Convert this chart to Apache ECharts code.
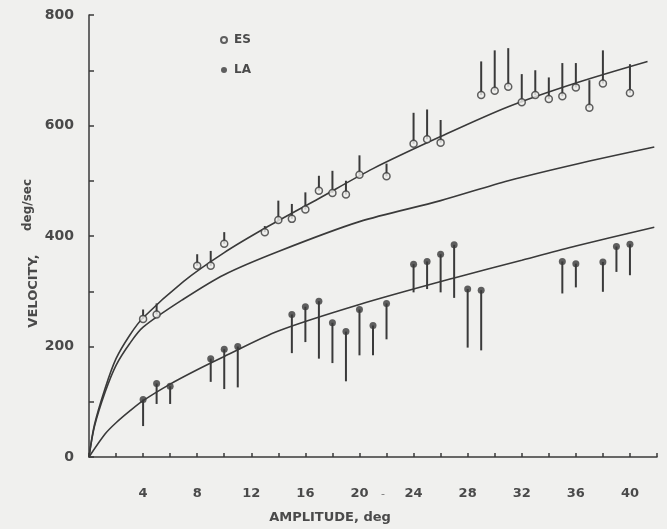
<!DOCTYPE html>
<html>
<head>
<meta charset="utf-8">
<script src="https://cdn.jsdelivr.net/npm/echarts@6/dist/echarts.min.js"></script>
<style>
html, body { margin: 0; padding: 0; background: #f0f0ee; }
#chart { width: 667px; height: 529px; }
</style>
</head>
<body>
<div id="chart"></div>
<script>
// ES points: [amplitude, velocity, top of bar]
var esPoints = [
    [4, 250, 267], [5, 258, 278], [8, 346, 367], [9, 346, 373], [10, 386, 407],
    [13, 407, 418], [14, 429, 464], [15, 431, 458], [16, 448, 479], [17, 482, 509],
    [18, 478, 518], [19, 475, 500], [20, 511, 546], [22, 508, 531], [24, 567, 623],
    [25, 575, 629], [26, 569, 610], [29, 655, 716], [30, 663, 736], [31, 670, 740],
    [32, 642, 693], [33, 655, 700], [34, 648, 687], [35, 653, 713], [36, 669, 713],
    [37, 632, 682], [38, 676, 736], [40, 659, 711]
];

// LA points: [amplitude, velocity, bottom of bar]
var laPoints = [
    [4, 104, 56], [5, 133, 96], [6, 128, 96], [9, 178, 136], [10, 195, 123],
    [11, 200, 126], [15, 258, 188], [16, 272, 208], [17, 282, 178], [18, 243, 170],
    [19, 227, 137], [20, 267, 184], [21, 238, 184], [22, 278, 213], [24, 349, 298],
    [25, 354, 304], [26, 367, 298], [27, 384, 288], [28, 304, 198], [29, 302, 193],
    [35, 354, 296], [36, 350, 307], [38, 353, 299], [39, 381, 335], [40, 385, 329]
];

// fitted curves
var esCurve = [[0, 0], [0.4, 58], [1.2, 125], [2, 178], [3, 220], [4, 252], [7, 318], [10, 370],
    [13, 414], [17, 468], [21, 522], [26, 580], [31, 634], [36, 677], [41.3, 716]];
var midCurve = [[0, 0], [0.4, 55], [1.2, 118], [2, 166], [3, 205], [4, 235], [7, 286], [10, 330],
    [14, 372], [20, 426], [26, 464], [31, 500], [36, 530], [41.8, 561]];
var laCurve = [[0, 0], [1.2, 42], [2, 62], [3, 83], [4, 102], [6, 132], [8, 158], [10, 182],
    [14, 228], [20, 276], [27, 324], [32, 356], [36, 382], [41.8, 416]];

var ink = '#3a3a3a';
var paper = '#f0f0ee';
var font = 'DejaVu Sans';

function barItem(params, api) {
    var p0 = api.coord([api.value(0), api.value(1)]);
    var p1 = api.coord([api.value(0), api.value(2)]);
    return {
        type: 'line',
        shape: { x1: p0[0], y1: p0[1], x2: p1[0], y2: p1[1] },
        style: { stroke: ink, lineWidth: 2 }
    };
}

function curve(data) {
    return {
        type: 'line',
        data: data,
        symbol: 'none',
        smooth: 0.3,
        lineStyle: { color: ink, width: 1.6 },
        z: 2
    };
}

var myChart = echarts.init(document.getElementById('chart'));

var option = {
    backgroundColor: paper,
    animation: false,
    grid: { left: 89, right: 10, top: 15, bottom: 72 },
    legend: {
        data: ['ES', 'LA'],
        orient: 'vertical',
        left: 215,
        top: 29,
        itemWidth: 6,
        itemHeight: 6,
        itemGap: 18,
        textStyle: { fontFamily: font, fontWeight: 'bold', fontSize: 12, color: '#4a4a4a', padding: [0, 0, 0, 2] }
    },
    xAxis: {
        type: 'value',
        min: 0,
        max: 42,
        interval: 2,
        axisLine: { lineStyle: { color: ink, width: 1.5 } },
        axisTick: { inside: true, length: 4, lineStyle: { color: ink, width: 1.5 } },
        splitLine: { show: false },
        axisLabel: {
            margin: 30,
            fontFamily: font,
            fontWeight: 'bold',
            fontSize: 13,
            color: '#4a4a4a',
            formatter: function (v) {
                return (v > 0 && v <= 40 && v % 4 === 0) ? String(v) : '';
            }
        }
    },
    yAxis: {
        type: 'value',
        min: 0,
        max: 800,
        interval: 100,
        axisLine: { show: true, lineStyle: { color: ink, width: 1.5 } },
        axisTick: { show: true, inside: true, length: 5, lineStyle: { color: ink, width: 1.5 } },
        splitLine: { show: false },
        axisLabel: {
            margin: 15,
            fontFamily: font,
            fontWeight: 'bold',
            fontSize: 14,
            color: '#4a4a4a',
            formatter: function (v) {
                return v % 200 === 0 ? String(v) : '';
            }
        }
    },
    graphic: [
        {
            type: 'text', x: 34, y: 291, rotation: Math.PI / 2,
            style: { text: 'VELOCITY,', fontFamily: font, fontWeight: 'bold', fontSize: 13, fill: '#4a4a4a', align: 'center', verticalAlign: 'middle' }
        },
        {
            type: 'text', x: 28, y: 205, rotation: Math.PI / 2,
            style: { text: 'deg/sec', fontFamily: font, fontWeight: 'bold', fontSize: 12, fill: '#4a4a4a', align: 'center', verticalAlign: 'middle' }
        },
        {
            type: 'text', x: 330, y: 518,
            style: { text: 'AMPLITUDE, deg', fontFamily: font, fontWeight: 'bold', fontSize: 13, fill: '#4a4a4a', align: 'center', verticalAlign: 'middle' }
        },
        {
            type: 'text', x: 383, y: 494,
            style: { text: '-', fontFamily: font, fontSize: 11, fill: '#777', align: 'center', verticalAlign: 'middle' }
        }
    ],
    series: [
        curve(esCurve),
        curve(midCurve),
        curve(laCurve),
        {
            type: 'custom',
            renderItem: barItem,
            data: esPoints,
            encode: { x: 0, y: [1, 2] },
            z: 3
        },
        {
            type: 'custom',
            renderItem: barItem,
            data: laPoints,
            encode: { x: 0, y: [1, 2] },
            z: 3
        },
        {
            name: 'ES',
            type: 'scatter',
            symbol: 'circle',
            symbolSize: 7,
            data: esPoints.map(function (p) { return [p[0], p[1]]; }),
            itemStyle: { color: paper, borderColor: ink, borderWidth: 1.5 },
            z: 4
        },
        {
            name: 'LA',
            type: 'scatter',
            symbol: 'circle',
            symbolSize: 7,
            data: laPoints.map(function (p) { return [p[0], p[1]]; }),
            itemStyle: { color: ink },
            z: 4
        }
    ]
};

myChart.setOption(option);
</script>
</body>
</html>
